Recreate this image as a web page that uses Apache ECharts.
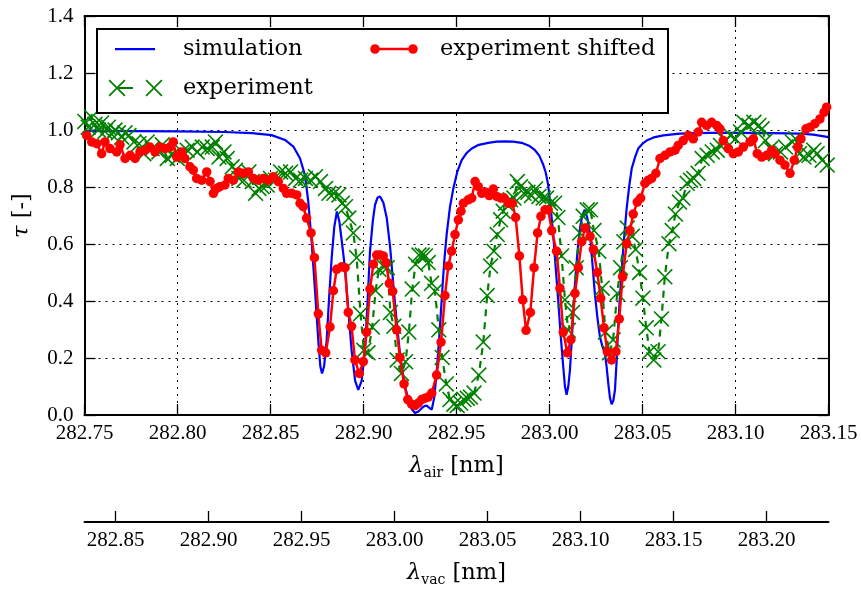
<!DOCTYPE html>
<html><head><meta charset="utf-8">
<script src="https://cdn.jsdelivr.net/npm/echarts@6/dist/echarts.min.js"></script>
<style>html,body{margin:0;padding:0;background:#fff}#c{width:861px;height:592px}</style>
</head><body><div id="c"></div>
<script>
const airTicks = [282.75, 282.80, 282.85, 282.90, 282.95, 283.00, 283.05, 283.10, 283.15];
const vacTicks = [282.85, 282.90, 282.95, 283.00, 283.05, 283.10, 283.15, 283.20];
const tauTicks = [0, 0.2, 0.4, 0.6, 0.8, 1.0, 1.2, 1.4];
const AIR_TO_VAC = 0.0833;   // vacuum - air wavelength offset (nm)
const SHIFT = 0.0227;        // experiment -> experiment shifted (nm)

const simWl = [282.750,282.775,282.800,282.825,282.840,282.8506,282.8578,282.8623,282.8659,282.8685,282.8703,282.8721,282.8740,282.8757,282.8768,282.8777,282.8788,282.8802,282.8815,282.8829,282.8843,282.8857,282.8870,282.8885,282.8900,282.8918,282.8936,282.8955,282.8972,282.8990,282.9008,282.9022,282.9035,282.9050,282.9062,282.9075,282.9089,282.9107,282.9125,282.9143,282.9160,282.9178,282.9196,282.9220,282.9241,282.9260,282.9277,282.9295,282.9313,282.9327,282.9340,282.9354,282.9367,282.9380,282.9393,282.9407,282.9420,282.9433,282.9447,282.9465,282.9483,282.9505,282.9528,282.9555,282.9582,282.9620,282.9671,282.9715,282.9760,282.9805,282.9850,282.9890,282.9922,282.9945,282.9967,282.9980,282.9993,283.0006,283.0020,283.0033,283.0047,283.0060,283.0074,283.0083,283.0092,283.0101,283.0110,283.0123,283.0137,283.0150,283.0164,283.0176,283.0190,283.0204,283.0218,283.0231,283.0244,283.0258,283.0271,283.0285,283.0298,283.0307,283.0316,283.0325,283.0334,283.0343,283.0352,283.0361,283.0370,283.0381,283.0393,283.0404,283.0415,283.0428,283.0442,283.0460,283.0477,283.0500,283.0522,283.0560,283.0612,283.0701,283.0854,283.1000,283.1200,283.1347,283.1418,283.1500];
const simTau = [0.997,0.996,0.995,0.993,0.989,0.982,0.965,0.942,0.900,0.842,0.750,0.610,0.430,0.262,0.170,0.146,0.170,0.262,0.410,0.552,0.660,0.714,0.680,0.600,0.517,0.370,0.227,0.120,0.088,0.120,0.227,0.400,0.575,0.680,0.737,0.762,0.767,0.745,0.691,0.590,0.459,0.330,0.216,0.110,0.054,0.020,0.007,0.012,0.024,0.031,0.033,0.025,0.019,0.060,0.146,0.270,0.401,0.530,0.633,0.730,0.795,0.855,0.894,0.920,0.935,0.948,0.955,0.959,0.960,0.959,0.955,0.945,0.929,0.910,0.877,0.850,0.807,0.730,0.633,0.520,0.401,0.280,0.169,0.100,0.071,0.100,0.158,0.300,0.459,0.570,0.656,0.700,0.720,0.690,0.633,0.530,0.424,0.340,0.274,0.240,0.216,0.170,0.111,0.060,0.038,0.050,0.088,0.190,0.320,0.440,0.552,0.645,0.726,0.800,0.865,0.905,0.935,0.952,0.963,0.974,0.981,0.987,0.990,0.990,0.989,0.987,0.984,0.975];

// measured transmission; wavelengths as plotted for "experiment shifted"
const shiftedWl = [282.7275,282.7293,282.7311,282.7329,282.7347,282.7365,282.7383,282.7401,282.7419,282.7437,282.7455,282.7473,282.7491,
282.7512,282.7539,282.7566,282.7592,282.7610,282.7637,282.7673,282.7691,282.7718,282.7745,282.7772,282.7798,282.7825,282.7852,282.7879,282.7906,282.7933,282.7960,282.7977,282.7996,282.8023,282.8040,282.8067,282.8085,282.8103,282.8130,282.8157,282.8175,282.8193,282.8211,282.8228,282.8255,282.8273,282.8300,282.8327,282.8354,282.8381,282.8408,282.8434,282.8461,282.8488,282.8515,282.8542,282.8569,282.8587,282.8614,282.8641,282.8659,282.8676,282.8694,282.8718,282.8736,282.8757,282.8775,282.8797,282.8820,282.8838,282.8856,282.8883,282.8901,282.8918,282.8936,282.8954,282.8977,282.8999,282.9017,282.9035,282.9053,282.9071,282.9089,282.9106,282.9121,282.9139,282.9157,282.9178,282.9196,282.9218,282.9238,282.9259,282.9277,282.9295,282.9313,282.9331,282.9348,282.9367,282.9393,282.9417,282.9438,282.9456,282.9474,282.9492,282.9510,282.9524,282.9537,282.9563,282.9582,282.9600,282.9617,282.9636,282.9657,282.9676,282.9698,282.9716,282.9739,282.9757,282.9778,282.9800,282.9818,282.9838,282.9856,282.9874,282.9897,282.9917,282.9936,282.9954,282.9976,282.9993,283.0012,283.0038,283.0056,283.0074,283.0096,283.0115,283.0137,283.0155,283.0173,283.0191,283.0218,283.0236,283.0257,283.0275,283.0293,283.0311,283.0334,283.0357,283.0375,283.0393,283.0415,283.0433,283.0450,283.0472,283.0490,283.0513,283.0531,283.0549,283.0572,283.0594,283.0621,283.0648,283.0675,283.0692,283.0719,283.0746,283.0773,283.0800,283.0818,283.0845,283.0872,283.0899,283.0916,283.0934,283.0961,283.0988,283.1015,283.1042,283.1078,283.1096,283.1117,283.1141,283.1168,283.1194,283.1212,283.1239,283.1266,283.1293,283.1316,283.1334,283.1352,283.1379,283.1401,283.1427,283.1454,283.1476,283.1490];
const expTau = [1.030,1.010,1.045,1.020,1.000,1.025,0.995,1.010,0.985,1.000,0.990,0.975,0.990,
0.981,0.958,0.952,0.917,0.958,0.935,0.923,0.948,0.900,0.911,0.900,0.923,0.929,0.940,0.923,0.940,0.935,0.940,0.958,0.905,0.923,0.900,0.871,0.859,0.830,0.824,0.853,0.819,0.778,0.795,0.801,0.807,0.830,0.824,0.853,0.848,0.853,0.830,0.824,0.830,0.824,0.836,0.819,0.795,0.778,0.778,0.772,0.743,0.731,0.691,0.639,0.552,0.355,0.227,0.218,0.309,0.436,0.511,0.520,0.517,0.360,0.311,0.193,0.146,0.187,0.291,0.442,0.529,0.561,0.561,0.558,0.535,0.462,0.434,0.299,0.202,0.109,0.054,0.038,0.033,0.042,0.054,0.059,0.063,0.077,0.140,0.256,0.419,0.523,0.575,0.633,0.685,0.715,0.743,0.755,0.761,0.819,0.801,0.778,0.782,0.770,0.793,0.767,0.761,0.761,0.743,0.743,0.693,0.558,0.404,0.297,0.360,0.517,0.639,0.697,0.720,0.720,0.647,0.575,0.445,0.291,0.218,0.264,0.427,0.517,0.608,0.656,0.627,0.581,0.500,0.410,0.306,0.222,0.193,0.222,0.337,0.485,0.601,0.647,0.705,0.747,0.761,0.813,0.824,0.830,0.848,0.900,0.911,0.923,0.929,0.946,0.963,0.981,0.969,0.993,1.027,1.016,1.027,1.016,1.004,0.963,0.935,0.917,0.923,0.940,0.958,0.969,0.917,0.905,0.911,0.929,0.917,0.894,0.877,0.848,0.894,0.940,0.969,1.004,1.010,1.022,1.039,1.062,1.080];

const simData = simWl.map((w, i) => [w, simTau[i]]);
const expData = shiftedWl.map((w, i) => [+(w + SHIFT).toFixed(4), expTau[i]]);
const shData = shiftedWl.map((w, i) => [w, expTau[i]]);

const SERIF = 'DejaVu Serif';
const TICKFONT = 'Liberation Serif';
const X_PATH = 'path://M0.5,1.7L1.7,0.5L9,7.8L16.3,0.5L17.5,1.7L10.2,9L17.5,16.3L16.3,17.5L9,10.2L1.7,17.5L0.5,16.3L7.8,9Z';
const ANCH = 'M0,0L0.01,0L0,0.01Z M56,18L55.99,18L56,17.99Z ';
function poly(cx, cy, r) {           // legend dot outline
  let s = '';
  for (let k = 0; k < 16; k++) {
    const a = k / 16 * Math.PI * 2;
    s += (k ? 'L' : 'M') + (cx + r * Math.cos(a)).toFixed(2) + ',' + (cy + r * Math.sin(a)).toFixed(2);
  }
  return s + 'Z ';
}
const ICON_SIM = 'path://' + ANCH + 'M7,8L47,8L47,10.2L7,10.2Z';
const ICON_EXP = 'path://' + ANCH + 'M0.5,1.7L1.7,0.5L9,7.8L16.3,0.5L17.5,1.7L10.2,9L17.5,16.3L16.3,17.5L9,10.2L1.7,17.5L0.5,16.3L7.8,9Z M10,8L25,8L25,10L10,10Z M37.5,1.7L38.7,0.5L46,7.8L53.3,0.5L54.5,1.7L47.2,9L54.5,16.3L53.3,17.5L46,10.2L38.7,17.5L37.5,16.3L44.8,9Z';
const ICON_SH = 'path://' + ANCH + poly(7, 9, 4.8) + poly(45, 9, 4.8) + 'M11,7.8L41,7.8L41,10.2L11,10.2Z';

const dotted = {color:'#000', width:1, type:[2,5]};
const nameStyle = {fontFamily:SERIF, fontSize:22.5, color:'#000', lineHeight:28,
  rich:{l:{fontFamily:SERIF, fontStyle:'italic', fontSize:22.5, lineHeight:28, color:'#000'},
        s:{fontFamily:SERIF, fontSize:14, lineHeight:14, verticalAlign:'bottom', color:'#000'}}};
const tickLabel = {fontFamily:TICKFONT, fontSize:21, color:'#000'};

const chart = echarts.init(document.getElementById('c'), null, {renderer:'canvas'});
chart.setOption({
  animation:false,
  backgroundColor:'#fff',
  grid:{left:84.5, top:16, width:744, height:402.7, containLabel:false},
  xAxis:[
    {type:'value', min:airTicks[0], max:airTicks[airTicks.length-1], interval:0.05, position:'bottom',
     axisLine:{show:true, lineStyle:{color:'#000', width:2}},
     axisTick:{show:true, inside:true, length:11, lineStyle:{color:'#000', width:1.3}},
     axisLabel:{show:true, margin:8, formatter:v=>v.toFixed(2), ...tickLabel},
     splitLine:{show:true, lineStyle:dotted},
     name:'{l|λ}{s|air} [nm]', nameLocation:'middle', nameGap:37, nameTextStyle:nameStyle},
    {type:'value', min:airTicks[0]+AIR_TO_VAC, max:airTicks[airTicks.length-1]+AIR_TO_VAC, position:'bottom', offset:107,
     axisLine:{show:true, onZero:false, lineStyle:{color:'#000', width:2}},
     axisTick:{show:true, inside:true, length:11, customValues:vacTicks, lineStyle:{color:'#000', width:1.3}},
     axisLabel:{show:true, margin:8, customValues:vacTicks, formatter:v=>v.toFixed(2), ...tickLabel},
     splitLine:{show:false},
     name:'{l|λ}{s|vac} [nm]', nameLocation:'middle', nameGap:37, nameTextStyle:nameStyle},
    {type:'value', min:airTicks[0], max:airTicks[airTicks.length-1], interval:0.05, position:'top',
     axisLine:{show:true, onZero:false, lineStyle:{color:'#000', width:2}},
     axisTick:{show:true, inside:true, length:11, lineStyle:{color:'#000', width:1.3}},
     axisLabel:{show:false}, splitLine:{show:false}}
  ],
  yAxis:[
    {type:'value', min:tauTicks[0], max:tauTicks[tauTicks.length-1], interval:0.2, position:'left',
     axisLine:{show:true, onZero:false, lineStyle:{color:'#000', width:2}},
     axisTick:{show:true, inside:true, length:11, lineStyle:{color:'#000', width:1.3}},
     axisLabel:{show:true, margin:11, formatter:v=>v.toFixed(1), ...tickLabel},
     splitLine:{show:true, lineStyle:dotted},
     name:'{l|τ} [-]', nameLocation:'middle', nameRotate:90, nameGap:41, nameTextStyle:nameStyle},
    {type:'value', min:tauTicks[0], max:tauTicks[tauTicks.length-1], interval:0.2, position:'right',
     axisLine:{show:true, onZero:false, lineStyle:{color:'#000', width:2}},
     axisTick:{show:true, inside:true, length:11, lineStyle:{color:'#000', width:1.3}},
     axisLabel:{show:false}, splitLine:{show:false}}
  ],
  legend:[
    {left:108, top:37, orient:'vertical', padding:0, itemGap:15, itemWidth:56, itemHeight:18, z:60, selectedMode:false,
     textStyle:{fontFamily:SERIF, fontSize:22.5, color:'#000', lineHeight:24, padding:[0,0,0,14]},
     data:[{name:'simulation', icon:ICON_SIM, itemStyle:{color:'#0000ff', borderWidth:0}},
           {name:'experiment', icon:ICON_EXP, itemStyle:{color:'#008000', borderWidth:0}}]},
    {left:368, top:37, orient:'vertical', padding:0, itemGap:15, itemWidth:56, itemHeight:18, z:60, selectedMode:false,
     textStyle:{fontFamily:SERIF, fontSize:22.5, color:'#000', lineHeight:24, padding:[0,0,0,11]},
     data:[{name:'experiment shifted', icon:ICON_SH, itemStyle:{color:'#ff0000', borderWidth:0}}]}
  ],
  graphic:[{type:'rect', z:50, shape:{x:97, y:29, width:571, height:84},
            style:{fill:'#fff', stroke:'#000', lineWidth:2}}],
  series:[
    {name:'simulation', type:'line', xAxisIndex:0, yAxisIndex:0, data:simData, symbol:'none', silent:true,
     lineStyle:{color:'#0000ff', width:2.2}, itemStyle:{color:'#0000ff'}, emphasis:{disabled:true}, z:2},
    {name:'experiment', type:'line', xAxisIndex:0, yAxisIndex:0, data:expData, symbol:X_PATH, symbolSize:16, silent:true,
     lineStyle:{color:'#008000', width:2.2, type:[7,6]}, itemStyle:{color:'#008000', borderWidth:0}, emphasis:{disabled:true}, z:3},
    {name:'experiment shifted', type:'line', xAxisIndex:0, yAxisIndex:0, data:shData, symbol:'circle', symbolSize:9.5, silent:true,
     lineStyle:{color:'#ff0000', width:2.5}, itemStyle:{color:'#ff0000', borderWidth:0}, emphasis:{disabled:true}, z:4}
  ]
});
</script></body></html>
